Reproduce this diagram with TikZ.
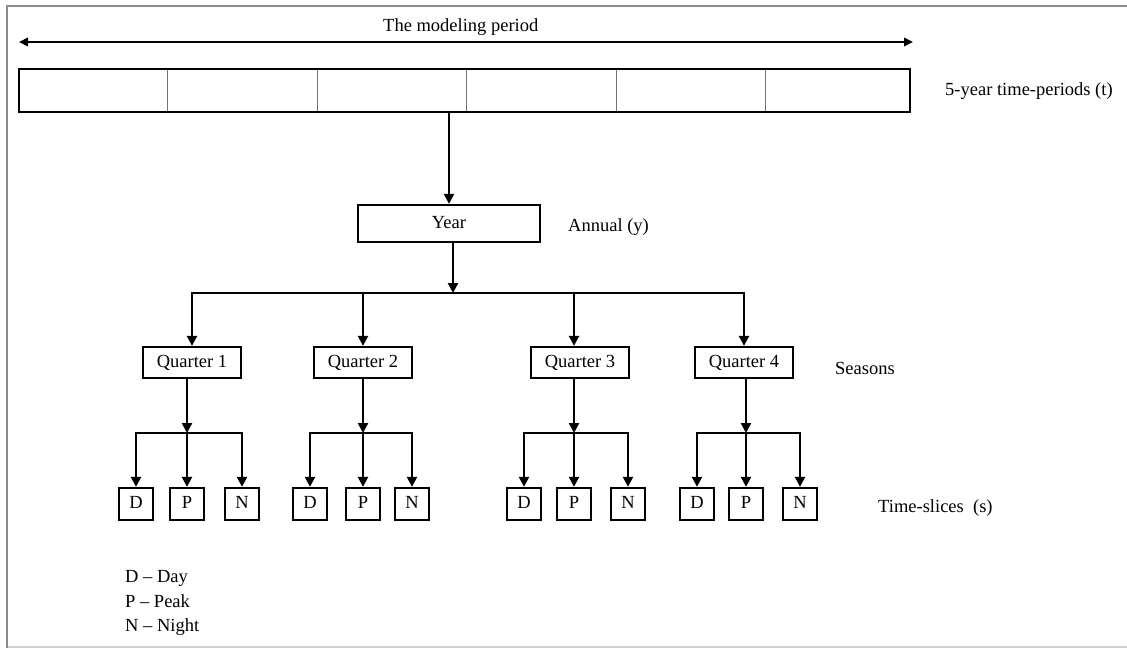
\documentclass[tikz,border=0pt]{standalone}
\usepackage{fontspec}
\setmainfont{Liberation Serif}
\usetikzlibrary{arrows.meta}
\begin{document}
\begin{tikzpicture}[x=1pt,y=-1pt,
  every node/.style={font=\fontsize{18.5}{22}\selectfont, text=black},
  lbl/.style={anchor=base west, inner sep=0pt},
  boxed/.style={draw=black, line width=2.3pt, inner sep=0pt,
    text height=13pt, text depth=4pt},
  yearbox/.style={boxed, minimum width=182pt, minimum height=37pt},
  qbox/.style={boxed, minimum width=98pt, minimum height=31pt},
  slice/.style={boxed, minimum width=34pt, minimum height=32pt},
  link/.style={draw=black, line width=2.3pt},
  tip/.tip={Triangle[length=10pt,width=10pt]},
  divider/.style={draw=black!55, line width=0.9pt}
]
\useasboundingbox (0,0) rectangle (1127,648);

% outer frame
\draw[draw=black!45, line width=2.5pt] (7,648) -- (7,6) -- (1127,6);
\draw[draw=black!18, line width=1.5pt] (8,647) -- (1127,647);

% modeling period arrow
\coordinate (ml) at (19,42);
\coordinate (mr) at (913,42);
\draw[link, line width=2pt, {Triangle[length=9pt,width=8.5pt]}-{Triangle[length=9pt,width=8.5pt]}] (ml) -- (mr);
\node[lbl] at (383,31) {The modeling period};

% five-year time periods bar
\foreach \x in {167,317,466,616,765}
  \draw[divider] (\x,69) -- (\x,112);
\node[draw=black, line width=2.3pt, inner sep=0pt, minimum width=891pt, minimum height=43pt] (bar) at (464.5,90.5) {};
\node[lbl] at (945,95) {5-year time-periods (t)};

% annual level
\node[yearbox] (Year) at (449,223.5) {Year};
\draw[link, -tip] (bar.south -| Year.north) -- (Year.north);
\node[lbl] at (568,231) {Annual (y)};

% seasons
\node[qbox] (Q1) at (192,362.5) {Quarter 1};
\node[qbox] (Q2) at (363,362.5) {Quarter 2};
\node[qbox] (Q3) at (580,362.5) {Quarter 3};
\node[qbox] (Q4) at (744,362.5) {Quarter 4};
\node[lbl] at (835,374) {Seasons};

\coordinate (jy) at (453,293);
\coordinate (j2) at (363,293);
\coordinate (j3) at (574,293);
\draw[link, -tip] (Year.south -| jy) -- (jy);
\draw[link, tip-tip] (Q1.north) |- (jy) -| (Q4.north);
\draw[link, -tip] (j2) -- (j2 |- Q2.north);
\draw[link, -tip] (j3) -- (j3 |- Q3.north);

% time slices
\foreach \i/\d/\p/\n in {1/136/187/242, 2/310/363/412, 3/524/574/628, 4/697/746/800} {
  \node[slice] (D\i) at (\d,504) {D};
  \node[slice] (P\i) at (\p,504) {P};
  \node[slice] (N\i) at (\n,504) {N};
  \coordinate (s\i) at (\p,433);
  \draw[link, -tip] (Q\i.south -| s\i) -- (s\i);
  \draw[link, tip-tip] (D\i.north) |- (s\i) -| (N\i.north);
  \draw[link, -tip] (s\i) -- (P\i.north);
}
\node[lbl] at (878,512) {Time-slices~~(s)};

% legend
\node[lbl] at (125,582) {D -- Day};
\node[lbl] at (125,607) {P -- Peak};
\node[lbl] at (125,631) {N -- Night};
\end{tikzpicture}
\end{document}
